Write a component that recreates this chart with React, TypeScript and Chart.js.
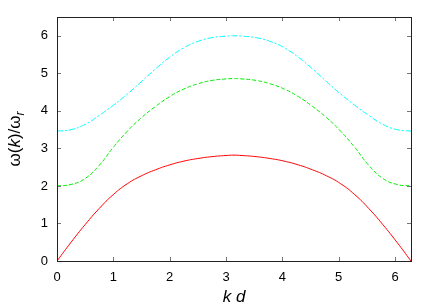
import React, { useEffect, useRef } from "react";
import { Chart, registerables } from "chart.js";

Chart.register(...registerables);

// kd values (0 .. 2π)
const KD = [
  0, 0.25, 0.5, 0.75, 1.0, 1.25, 1.5, 1.75, 2.0, 2.25, 2.5, 2.75, 3.0, 3.1416,
  3.2832, 3.5332, 3.7832, 4.0332, 4.2832, 4.5332, 4.7832, 5.0332, 5.2832, 5.5332, 5.7832, 6.0332, 6.2832,
];
// lowest branch (red, solid)
const RED = [
  0, 0.5, 0.97, 1.4, 1.77, 2.06, 2.27, 2.43, 2.56, 2.66, 2.73, 2.78, 2.81, 2.82,
  2.81, 2.78, 2.73, 2.66, 2.56, 2.43, 2.27, 2.06, 1.77, 1.4, 0.97, 0.5, 0,
];
// middle branch (green, dashed)
const GREEN = [
  2.0, 2.04, 2.2, 2.55, 3.03, 3.46, 3.82, 4.12, 4.38, 4.58, 4.72, 4.81, 4.85, 4.86,
  4.85, 4.81, 4.72, 4.58, 4.38, 4.12, 3.82, 3.46, 3.03, 2.55, 2.2, 2.04, 2.0,
];
// upper branch (cyan, dash-dot)
const CYAN = [
  3.46, 3.5, 3.64, 3.88, 4.15, 4.45, 4.78, 5.12, 5.43, 5.68, 5.85, 5.95, 5.99, 6.0,
  5.99, 5.95, 5.85, 5.68, 5.43, 5.12, 4.78, 4.45, 4.15, 3.88, 3.64, 3.5, 3.46,
];
const X_TICKS = [0, 1, 2, 3, 4, 5, 6];
const Y_TICKS = [0, 1, 2, 3, 4, 5, 6];
const X_LABEL = "k d";

const FONT = "'Liberation Sans', Arial, Helvetica, sans-serif";

const framePlugin = {
  id: "frame",
  afterDraw(chart: any) {
    const { ctx, chartArea, scales } = chart;
    const { left, right, top, bottom } = chartArea;
    const xs = scales.x;
    const ys = scales.y;
    ctx.save();
    // tick marks (inward, mirrored)
    ctx.strokeStyle = "#777";
    ctx.lineWidth = 1;
    ctx.beginPath();
    X_TICKS.forEach((v) => {
      const px = Math.round(xs.getPixelForValue(v)) + 0.5;
      ctx.moveTo(px, bottom);
      ctx.lineTo(px, bottom - 4);
      ctx.moveTo(px, top);
      ctx.lineTo(px, top + 4);
    });
    Y_TICKS.forEach((v) => {
      const py = Math.round(ys.getPixelForValue(v)) + 0.5;
      ctx.moveTo(left, py);
      ctx.lineTo(left + 4, py);
      ctx.moveTo(right, py);
      ctx.lineTo(right - 4, py);
    });
    ctx.stroke();
    // border
    ctx.strokeStyle = "#222";
    ctx.strokeRect(Math.round(left) + 0.5, Math.round(top) + 0.5, Math.round(right - left), Math.round(bottom - top));

    // x title
    ctx.fillStyle = "#000";
    ctx.font = `italic 17px ${FONT}`;
    ctx.textAlign = "center";
    ctx.textBaseline = "middle";
    ctx.fillText(X_LABEL, (left + right) / 2, 297);

    // y title: ω(k)/ω_r rotated
    const parts = [
      { t: "\u03c9(", f: `17px ${FONT}`, dy: 0 },
      { t: "k", f: `italic 17px ${FONT}`, dy: 0 },
      { t: ")/\u03c9", f: `17px ${FONT}`, dy: 0 },
      { t: "r", f: `italic 12px ${FONT}`, dy: 4 },
    ];
    let total = 0;
    const widths = parts.map((p) => {
      ctx.font = p.f;
      const w = ctx.measureText(p.t).width;
      total += w;
      return w;
    });
    ctx.translate(14, (top + bottom) / 2);
    ctx.rotate(-Math.PI / 2);
    ctx.textAlign = "left";
    ctx.textBaseline = "alphabetic";
    let cx = -total / 2;
    parts.forEach((p, i) => {
      ctx.font = p.f;
      ctx.fillText(p.t, cx, 6 + p.dy);
      cx += widths[i];
    });
    ctx.restore();
  },
};

export default function App() {
  const ref = useRef<HTMLCanvasElement | null>(null);
  useEffect(() => {
    if (!ref.current) return;
    const mk = (arr: number[]) => KD.map((x, i) => ({ x, y: arr[i] }));
    const chart = new Chart(ref.current, {
      type: "line",
      data: {
        datasets: [
          { data: mk(RED), borderColor: "#ff0000", borderWidth: 1, pointRadius: 0, tension: 0.5, fill: false },
          { data: mk(GREEN), borderColor: "#00ee00", borderWidth: 1, borderDash: [4, 2], pointRadius: 0, tension: 0.5, fill: false },
          { data: mk(CYAN), borderColor: "#00ffff", borderWidth: 1, borderDash: [6, 2, 2, 2], pointRadius: 0, tension: 0.5, fill: false },
        ],
      },
      options: {
        animation: false,
        responsive: false,
        devicePixelRatio: 1,
        layout: { padding: { left: 0, right: 25, top: 17, bottom: 0 } },
        plugins: { legend: { display: false }, tooltip: { enabled: false } },
        scales: {
          x: {
            type: "linear",
            min: 0,
            max: 6.2832,
            grid: { display: false, drawTicks: false },
            border: { display: false },
            afterBuildTicks: (s: any) => {
              s.ticks = X_TICKS.map((v) => ({ value: v }));
            },
            afterFit: (s: any) => {
              s.height = 44;
            },
            ticks: { color: "#000", font: { family: FONT, size: 13 }, padding: 9, maxRotation: 0, autoSkip: false },
          },
          y: {
            type: "linear",
            min: 0,
            max: 6.5,
            grid: { display: false, drawTicks: false },
            border: { display: false },
            afterBuildTicks: (s: any) => {
              s.ticks = Y_TICKS.map((v) => ({ value: v }));
            },
            afterFit: (s: any) => {
              s.width = 57;
            },
            ticks: { color: "#000", font: { family: FONT, size: 13 }, padding: 9, autoSkip: false },
          },
        },
      },
      plugins: [framePlugin],
    });
    return () => chart.destroy();
  }, []);
  return (
    <div style={{ position: "absolute", left: 0, top: 0, width: 436, height: 305, background: "#fff" }}>
      <canvas ref={ref} width={436} height={305} />
    </div>
  );
}
